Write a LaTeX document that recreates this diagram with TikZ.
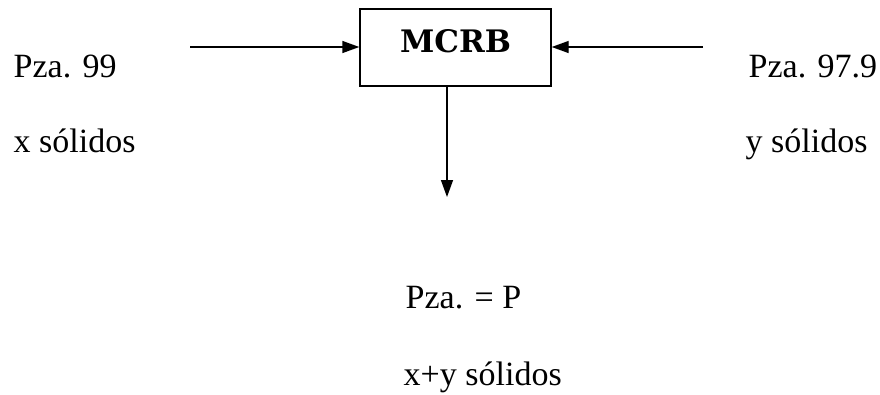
\documentclass[tikz,border=0pt]{standalone}
\usepackage{fontspec}
\setmainfont{Liberation Serif}
\newfontfamily\boxfont{DejaVu Serif}
\usetikzlibrary{arrows.meta}
\begin{document}
\begin{tikzpicture}[x=1pt, y=-1pt, line width=1.4pt, >={Triangle[length=17pt,width=12pt]},
  every node/.style={font=\fontsize{34}{40}\selectfont},
  lbl/.style={anchor=base west, inner sep=0pt}]
\useasboundingbox (0,0) rectangle (880,394);
\node (mcrb) at (455.5,47.5) [draw, minimum width=191pt, minimum height=77pt, text depth=13pt,
  font=\boxfont\bfseries\fontsize{31}{36}\selectfont] {MCRB};
\coordinate (in1) at (190,47);
\coordinate (in2) at (703,47);
\coordinate (out) at (447,197);

\node (p99) at (13,77) [lbl] {Pza. 99};
\node (xs) at (13,152) [lbl] {x sólidos};
\node (p979) at (748,77) [lbl] {Pza. 97.9};
\node (ys) at (745,152) [lbl] {y sólidos};
\node (pp) at (405,308) [lbl] {Pza. = P};
\node (xys) at (403,385) [lbl] {x+y sólidos};

\draw[->] (in1) -- (in1 -| mcrb.west);
\draw[->] (in2) -- (in2 -| mcrb.east);
\draw[->] (mcrb.south -| out) -- (out);
\end{tikzpicture}
\end{document}
